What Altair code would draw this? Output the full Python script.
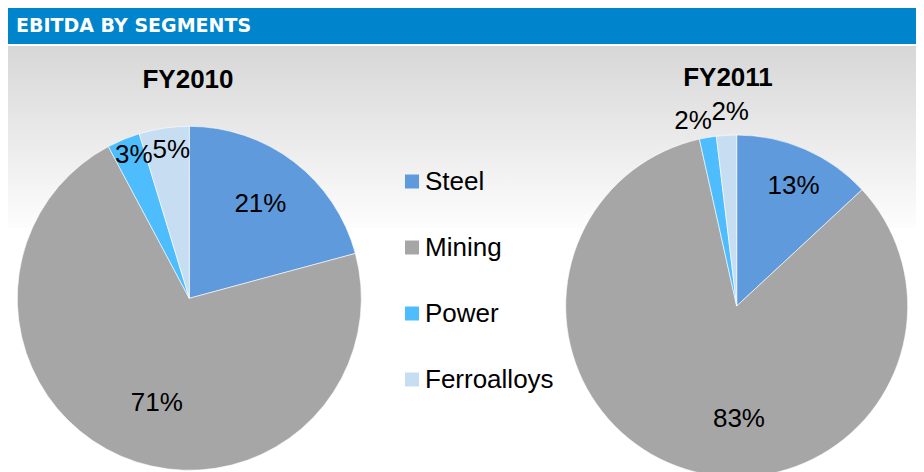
import altair as alt
import pandas as pd

# ---- data ----
header_title = "EBITDA BY SEGMENTS"
years = ["FY2010", "FY2011"]
segments = ["Steel", "Mining", "Power", "Ferroalloys"]
fy2010 = [20.8, 71.4, 3.1, 4.7]
fy2011 = [13.1, 83.4, 1.6, 1.9]
colors = ["#5F9BDC", "#A6A6A6", "#4DBDFE", "#C7DDF2"]

rows = []
for year, vals in zip(years, [fy2010, fy2011]):
    for i, (s, v) in enumerate(zip(segments, vals)):
        rows.append({"year": year, "segment": s, "idx": i, "value": v})
df = pd.DataFrame(rows)

# ---- layout / style ----
W, H = 908, 464
FONT = "Liberation Sans"

layout = {
    "FY2010": dict(cx=181.3, cy=290.3, r=172, big_r=117, small_r=150, tx=180, ty=80),
    "FY2011": dict(cx=728.7, cy=298.0, r=171, big_r=117, small_r=193, tx=720, ty=78),
}
# small pixel nudges that mimic Excel's "best fit" label placement
nudges = {
    ("FY2010", "Steel"): (0, -1), ("FY2010", "Mining"): (14, -3),
    ("FY2010", "Power"): (2, -5), ("FY2010", "Ferroalloys"): (4, 0),
    ("FY2011", "Steel"): (10, -13), ("FY2011", "Mining"): (37, 1),
    ("FY2011", "Power"): (-11, 5), ("FY2011", "Ferroalloys"): (5, -1),
}

theta_scale = alt.Scale(domain=[0, 100])
color = alt.Color(
    "segment:N",
    scale=alt.Scale(domain=segments, range=colors),
    legend=alt.Legend(
        title=None, orient="none", legendX=391, legendY=160.5,
        symbolType="square", symbolSize=196, symbolStrokeWidth=0,
        labelFontSize=26, labelFont=FONT, labelColor="black",
        labelOffset=0, rowPadding=40, labelLimit=300, padding=0,
    ),
)

base = alt.Chart(df).transform_window(
    cum="sum(value)", groupby=["year"], sort=[alt.SortField("idx", order="ascending")]
).transform_calculate(
    mid="datum.cum - datum.value / 2",
    label="format(datum.value, '.0f') + '%'",
)

# background gradient + header
bg = alt.Chart(pd.DataFrame({"t": [header_title]})).mark_rect(
    fill=alt.Gradient(
        gradient="linear",
        stops=[alt.GradientStop(color="#D7D7D7", offset=0),
               alt.GradientStop(color="#FDFDFD", offset=1)],
        x1=0, x2=0, y1=0, y2=1,
    )
).encode(x=alt.value(0), x2=alt.value(W), y=alt.value(38), y2=alt.value(220))

header = alt.Chart(pd.DataFrame({"t": [header_title]})).mark_rect(color="#0085CC").encode(
    x=alt.value(0), x2=alt.value(W), y=alt.value(-1), y2=alt.value(36)
)
header_text = alt.Chart(pd.DataFrame({"t": [header_title]})).mark_text(
    align="left", baseline="alphabetic", font="DejaVu Sans", fontSize=19,
    fontWeight="bold", color="white"
).encode(text="t:N", x=alt.value(8), y=alt.value(24))

layers = [bg, header, header_text]
for year in years:
    L = layout[year]
    sel = base.transform_filter(alt.datum.year == year)
    arc = sel.mark_arc(outerRadius=L["r"], stroke="white", strokeWidth=0.6).encode(
        theta=alt.Theta("value:Q", stack=True, scale=theta_scale),
        order=alt.Order("idx:Q"),
        color=color,
        x=alt.value(L["cx"]), y=alt.value(L["cy"]),
    )
    layers.append(arc)
    vals = fy2010 if year == "FY2010" else fy2011
    for seg, v in zip(segments, vals):
        dx, dy = nudges[(year, seg)]
        rad = L["big_r"] if v >= 10 else L["small_r"]
        lab = sel.transform_filter(alt.datum.segment == seg).mark_text(
            radius=rad, font=FONT, fontSize=26, color="black", dx=dx, dy=dy
        ).encode(
            theta=alt.Theta("mid:Q", stack=False, scale=theta_scale),
            text="label:N",
            x=alt.value(L["cx"]), y=alt.value(L["cy"]),
        )
        layers.append(lab)
    title = alt.Chart(pd.DataFrame({"year": [year]})).mark_text(
        font=FONT, fontSize=26, fontWeight="bold", color="black", baseline="alphabetic"
    ).encode(text="year:N", x=alt.value(L["tx"]), y=alt.value(L["ty"]))
    layers.append(title)

chart = alt.layer(*layers).properties(
    width=W, height=H, padding=0,
    autosize=alt.AutoSizeParams(type="none"),
    background="white",
).configure_view(stroke="transparent")

chart.save("out.html", embed_options={"renderer": "svg", "actions": False})
